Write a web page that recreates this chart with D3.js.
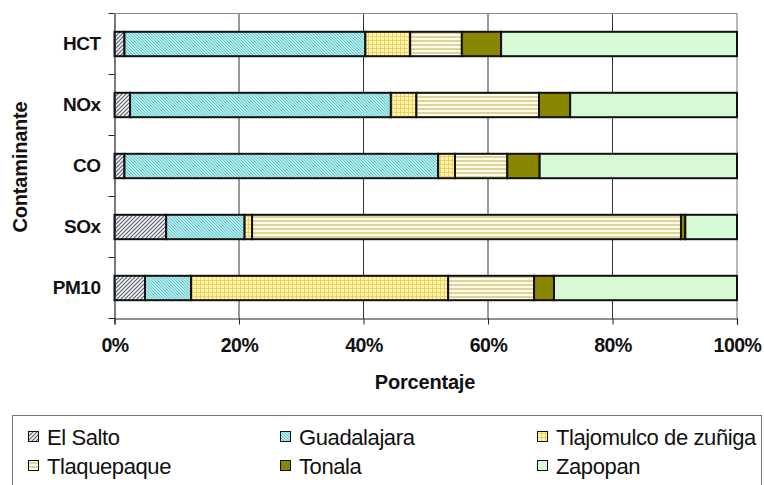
<!DOCTYPE html>
<html><head><meta charset="utf-8">
<script src="https://cdn.jsdelivr.net/npm/d3@7"></script>
<style>body{margin:0;background:#fff}svg{display:block}text{font-family:"Liberation Sans",Arial,sans-serif}</style>
</head><body><svg id="c" width="764" height="485"></svg>
<script>
const categories = ["HCT","NOx","CO","SOx","PM10"];
const seriesNames = ["El Salto","Guadalajara","Tlajomulco de zuñiga","Tlaquepaque","Tonala","Zapopan"];
const elSalto     = [1.6, 2.5, 1.6, 8.3, 4.9];
const guadalajara = [38.7, 41.9, 50.4, 12.6, 7.4];
const tlajomulco  = [7.2, 4.1, 2.7, 1.2, 41.3];
const tlaquepaque = [8.3, 19.7, 8.4, 68.9, 13.8];
const tonala      = [6.3, 5.0, 5.2, 0.7, 3.2];
const zapopan     = [37.9, 26.8, 31.7, 8.3, 29.4];
const xTicks = [0, 20, 40, 60, 80, 100];
const xTitle = "Porcentaje", yTitle = "Contaminante";

const seriesValues = [elSalto, guadalajara, tlajomulco, tlaquepaque, tonala, zapopan];
const svg = d3.select("#c");
const defs = svg.append("defs");
function pat(id, size, bg, draw){
  const p = defs.append("pattern").attr("id", id).attr("patternUnits","userSpaceOnUse").attr("width", size).attr("height", size);
  p.append("rect").attr("width", size).attr("height", size).attr("fill", bg);
  draw(p);
}
pat("p0", 4, "#f4f4f6", p => {
  p.append("path").attr("d","M-1,1 L1,-1 M0,4 L4,0 M3,5 L5,3").attr("stroke","#56606e").attr("stroke-width",1.1);
});
pat("p1", 3, "#b4ecec", p => {
  p.append("path").attr("d","M-1,2 L1,4 M0,0 L3,3 M2,-1 L4,1").attr("stroke","#5cc0c8").attr("stroke-width",0.9);
});
pat("p2", 4, "#fff4b0", p => {
  p.append("path").attr("d","M0,0.5 H4 M0.5,0 V4").attr("stroke","#ecd060").attr("stroke-width",1);
});
pat("p3", 4, "#fffde6", p => {
  p.append("path").attr("d","M0,1 H4").attr("stroke","#c8b870").attr("stroke-width",1.2);
});
const fills = ["url(#p0)","url(#p1)","url(#p2)","url(#p3)","#8a8600","#d6fad6"];

const x = d3.scaleLinear().domain([0,100]).range([114.5, 737]);
const y = d3.scaleBand().domain(categories).range([13.5, 318.5]).paddingInner(0.6).paddingOuter(0.3);

const g = svg.append("g");
g.selectAll("line.grid").data(xTicks.filter(t=>t>0 && t<100)).join("line")
  .attr("x1", d=>x(d)).attr("x2", d=>x(d)).attr("y1",13.5).attr("y2",318.5)
  .attr("stroke","#333").attr("stroke-width",1);
g.append("path").attr("d",`M${x(0)},13.5 H${x(100)} V318.5`).attr("fill","none").attr("stroke","#8a8a8a").attr("stroke-width",1.2);

const rows = categories.map((c,i)=>{ const o={cat:c}; seriesNames.forEach((s,j)=>o[s]=seriesValues[j][i]); return o; });
const stack = d3.stack().keys(seriesNames)(rows);
svg.append("g").selectAll("g").data(stack).join("g").attr("fill",(d,i)=>fills[i])
  .selectAll("rect").data(d=>d).join("rect")
  .attr("x", d=>x(d[0])).attr("width", d=>x(d[1])-x(d[0]))
  .attr("y", d=>y(d.data.cat)).attr("height", y.bandwidth())
  .attr("stroke","#111").attr("stroke-width",2);

const xAxis = d3.axisBottom(x).tickValues(xTicks).tickFormat(d=>d+"%").tickSize(6).tickPadding(14);
const xa = svg.append("g").attr("transform","translate(0,318.5)").call(xAxis);
xa.select(".domain").attr("stroke","#222").attr("stroke-width",1.2);
xa.selectAll(".tick line").attr("stroke","#222");
xa.selectAll("text").attr("font-size",19.5).attr("font-weight","bold").attr("fill","#111").attr("letter-spacing","-0.5");

const yBand = d3.scaleBand().domain(categories).range([13.5,318.5]);
const yAxis = d3.axisLeft(yBand).tickSize(0).tickPadding(14);
const ya = svg.append("g").attr("transform",`translate(${x(0)},0)`).call(yAxis);
ya.select(".domain").attr("stroke","#222").attr("stroke-width",1.2);
ya.selectAll("text").attr("font-size",19).attr("font-weight","bold").attr("fill","#111").attr("letter-spacing","-0.5");
const edges = categories.map(c=>yBand(c)).concat([318.5]);
ya.selectAll("line.edge").data(edges).join("line").attr("class","edge")
  .attr("x1",-6).attr("x2",0).attr("y1",d=>d).attr("y2",d=>d).attr("stroke","#222");

svg.append("text").attr("x", 425).attr("y", 389).attr("text-anchor","middle")
  .attr("font-size",20).attr("font-weight","bold").attr("fill","#111").attr("letter-spacing","-0.2").text(xTitle);
svg.append("text").attr("transform","translate(27,167) rotate(-90)").attr("text-anchor","middle")
  .attr("font-size",20).attr("font-weight","bold").attr("fill","#111").attr("letter-spacing","-0.2").text(yTitle);

svg.append("rect").attr("x",12.5).attr("y",415.5).attr("width",749).attr("height",80)
  .attr("fill","#fff").attr("stroke","#777").attr("stroke-width",1);
const legX = [28, 280, 537], legY = [437, 466];
const lg = svg.append("g").selectAll("g").data(seriesNames).join("g")
  .attr("transform",(d,i)=>`translate(${legX[i%3]},${legY[Math.floor(i/3)]})`);
lg.append("rect").attr("x",0.5).attr("y",-5.5).attr("width",10).attr("height",10)
  .attr("fill",(d,i)=>fills[i]).attr("stroke","#111").attr("stroke-width",1);
lg.append("text").attr("x",19).attr("y",0).attr("dy","0.36em").attr("font-size",22)
  .attr("fill","#111").attr("letter-spacing","-0.4").text(d=>d);
</script></body></html>
